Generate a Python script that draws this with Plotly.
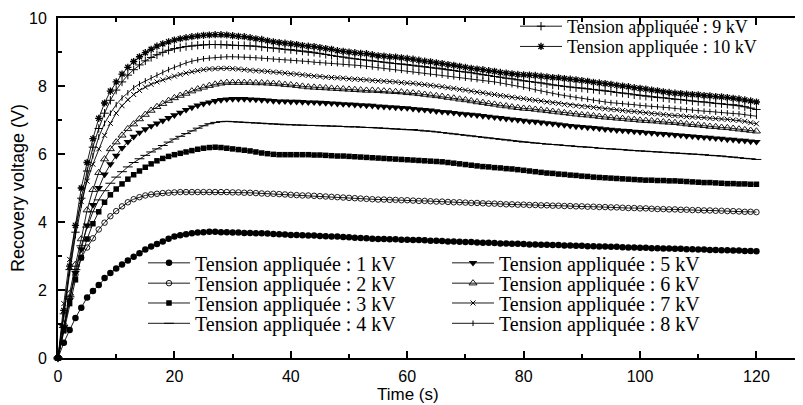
import plotly.graph_objects as go

time_s = list(range(0, 121))

v_1kV = [0, 0.45, 0.82, 1.18, 1.48, 1.78, 1.97, 2.15, 2.35, 2.50, 2.63, 2.75, 2.87, 2.98, 3.08, 3.19, 3.28, 3.35, 3.43, 3.51, 3.57, 3.61, 3.64, 3.67, 3.69, 3.70, 3.71, 3.71, 3.70, 3.70, 3.69,
         3.69, 3.68, 3.68, 3.67, 3.67, 3.66, 3.65, 3.64, 3.63, 3.62,
         3.62, 3.61, 3.60, 3.60, 3.59, 3.58, 3.57, 3.57, 3.56, 3.55,
         3.54, 3.53, 3.52, 3.51, 3.50, 3.50, 3.49, 3.49, 3.48, 3.48,
         3.47, 3.47, 3.46, 3.45, 3.45, 3.44, 3.43, 3.43, 3.42, 3.41,
         3.41, 3.40, 3.39, 3.39, 3.38, 3.37, 3.37, 3.36, 3.36, 3.35,
         3.34, 3.34, 3.33, 3.33, 3.32, 3.32, 3.31, 3.31, 3.30, 3.30,
         3.29, 3.29, 3.28, 3.28, 3.27, 3.27, 3.26, 3.25, 3.25, 3.24,
         3.24, 3.23, 3.23, 3.22, 3.22, 3.21, 3.21, 3.20, 3.20, 3.19,
         3.19, 3.18, 3.18, 3.17, 3.17, 3.16, 3.16, 3.15, 3.15, 3.14]

v_2kV = [0, 0.90, 1.75, 2.45, 2.95, 3.25, 3.52, 3.78, 3.98, 4.17, 4.32, 4.46, 4.58, 4.67, 4.73, 4.78, 4.81, 4.83, 4.85, 4.86, 4.87, 4.88, 4.88, 4.88, 4.88, 4.88, 4.88, 4.88, 4.88, 4.88, 4.87,
         4.87, 4.86, 4.86, 4.85, 4.84, 4.83, 4.83, 4.82, 4.81, 4.80,
         4.79, 4.78, 4.78, 4.77, 4.76, 4.75, 4.74, 4.73, 4.72, 4.71,
         4.70, 4.69, 4.68, 4.67, 4.66, 4.66, 4.65, 4.65, 4.64, 4.64,
         4.63, 4.62, 4.62, 4.61, 4.60, 4.60, 4.59, 4.58, 4.58, 4.57,
         4.56, 4.56, 4.55, 4.54, 4.54, 4.53, 4.52, 4.52, 4.51, 4.51,
         4.50, 4.50, 4.49, 4.49, 4.48, 4.48, 4.47, 4.47, 4.46, 4.46,
         4.45, 4.45, 4.44, 4.44, 4.43, 4.43, 4.42, 4.41, 4.41, 4.40,
         4.40, 4.39, 4.38, 4.38, 4.37, 4.37, 4.36, 4.36, 4.35, 4.35,
         4.34, 4.34, 4.33, 4.33, 4.32, 4.32, 4.31, 4.30, 4.30, 4.29]

v_3kV = [0, 0.80, 1.60, 2.30, 2.95, 3.50, 3.95, 4.30, 4.58, 4.80, 4.97, 5.12, 5.26, 5.39, 5.50, 5.61, 5.71, 5.80, 5.87, 5.93, 5.98, 6.02, 6.06, 6.10, 6.14, 6.17, 6.19, 6.20, 6.19, 6.17, 6.15,
         6.13, 6.11, 6.09, 6.06, 6.03, 6.01, 5.99, 5.98, 5.98, 5.98,
         5.98, 5.98, 5.98, 5.97, 5.97, 5.96, 5.95, 5.94, 5.94, 5.93,
         5.92, 5.91, 5.90, 5.89, 5.88, 5.87, 5.86, 5.85, 5.84, 5.83,
         5.82, 5.81, 5.80, 5.79, 5.78, 5.77, 5.75, 5.73, 5.71, 5.69,
         5.67, 5.65, 5.63, 5.62, 5.60, 5.59, 5.57, 5.56, 5.54, 5.52,
         5.50, 5.48, 5.46, 5.44, 5.43, 5.41, 5.40, 5.38, 5.37, 5.35,
         5.34, 5.32, 5.31, 5.30, 5.29, 5.28, 5.27, 5.26, 5.25, 5.24,
         5.23, 5.23, 5.22, 5.22, 5.21, 5.21, 5.20, 5.19, 5.18, 5.17,
         5.16, 5.16, 5.15, 5.14, 5.13, 5.13, 5.12, 5.12, 5.11, 5.11]

v_4kV = [0, 0.90, 1.80, 2.60, 3.30, 3.85, 4.30, 4.65, 4.92, 5.14, 5.32, 5.48, 5.62, 5.75, 5.86, 5.96, 6.06, 6.15, 6.25, 6.35, 6.44, 6.52, 6.60, 6.68, 6.76, 6.83, 6.89, 6.93, 6.95, 6.96, 6.95,
         6.94, 6.93, 6.92, 6.91, 6.90, 6.89, 6.88, 6.87, 6.86, 6.86,
         6.85, 6.85, 6.84, 6.84, 6.83, 6.83, 6.82, 6.82, 6.81, 6.80,
         6.80, 6.79, 6.78, 6.78, 6.77, 6.76, 6.75, 6.74, 6.73, 6.72,
         6.72, 6.70, 6.68, 6.67, 6.65, 6.63, 6.61, 6.59, 6.57, 6.55,
         6.53, 6.51, 6.49, 6.47, 6.45, 6.43, 6.41, 6.39, 6.37, 6.35,
         6.34, 6.32, 6.31, 6.29, 6.28, 6.27, 6.25, 6.24, 6.22, 6.21,
         6.20, 6.19, 6.17, 6.16, 6.15, 6.14, 6.13, 6.11, 6.10, 6.09,
         6.08, 6.07, 6.06, 6.05, 6.04, 6.03, 6.02, 6.01, 6.00, 5.99,
         5.98, 5.96, 5.95, 5.94, 5.92, 5.91, 5.89, 5.87, 5.86, 5.84]

v_5kV = [0, 0.90, 1.70, 2.50, 3.20, 3.90, 4.50, 5.00, 5.40, 5.70, 5.95, 6.18, 6.36, 6.51, 6.63, 6.73, 6.82, 6.90, 6.98, 7.06, 7.14, 7.22, 7.30, 7.37, 7.43, 7.48, 7.52, 7.56, 7.59, 7.61, 7.62,
         7.62, 7.62, 7.61, 7.60, 7.59, 7.58, 7.56, 7.55, 7.55, 7.54,
         7.54, 7.53, 7.52, 7.52, 7.51, 7.50, 7.49, 7.48, 7.47, 7.46,
         7.45, 7.44, 7.43, 7.42, 7.40, 7.39, 7.38, 7.37, 7.36, 7.35,
         7.33, 7.31, 7.30, 7.28, 7.26, 7.24, 7.23, 7.21, 7.19, 7.17,
         7.16, 7.14, 7.12, 7.10, 7.08, 7.06, 7.04, 7.02, 7.00, 6.98,
         6.96, 6.95, 6.93, 6.91, 6.89, 6.87, 6.85, 6.83, 6.81, 6.80,
         6.78, 6.77, 6.75, 6.73, 6.72, 6.70, 6.69, 6.68, 6.66, 6.65,
         6.63, 6.62, 6.60, 6.59, 6.58, 6.56, 6.55, 6.53, 6.52, 6.50,
         6.49, 6.48, 6.46, 6.45, 6.43, 6.42, 6.40, 6.39, 6.37, 6.36]

v_6kV = [0, 1.00, 1.90, 2.75, 3.50, 4.35, 4.95, 5.45, 5.85, 6.15, 6.35, 6.55, 6.74, 6.88, 7.03, 7.16, 7.28, 7.39, 7.48, 7.57, 7.65, 7.72, 7.78, 7.85, 7.91, 7.96, 8.01, 8.05, 8.08, 8.10, 8.10,
         8.10, 8.10, 8.10, 8.09, 8.09, 8.08, 8.07, 8.06, 8.04, 8.03,
         8.01, 7.99, 7.97, 7.96, 7.95, 7.94, 7.93, 7.92, 7.91, 7.90,
         7.89, 7.88, 7.87, 7.87, 7.86, 7.85, 7.84, 7.83, 7.82, 7.80,
         7.79, 7.77, 7.75, 7.73, 7.71, 7.69, 7.66, 7.64, 7.61, 7.59,
         7.56, 7.53, 7.51, 7.48, 7.46, 7.43, 7.41, 7.38, 7.36, 7.34,
         7.33, 7.31, 7.29, 7.27, 7.25, 7.23, 7.21, 7.19, 7.17, 7.15,
         7.14, 7.12, 7.10, 7.08, 7.07, 7.05, 7.04, 7.02, 7.01, 6.99,
         6.98, 6.97, 6.96, 6.94, 6.93, 6.92, 6.90, 6.88, 6.86, 6.85,
         6.83, 6.81, 6.80, 6.78, 6.77, 6.75, 6.73, 6.71, 6.69, 6.67]

v_7kV = [0, 1.60, 2.90, 3.90, 4.60, 5.20, 5.70, 6.15, 6.55, 6.90, 7.20, 7.42, 7.60, 7.75, 7.87, 7.97, 8.05, 8.12, 8.18, 8.24, 8.29, 8.34, 8.38, 8.42, 8.45, 8.48, 8.50, 8.51, 8.52, 8.52, 8.51,
         8.50, 8.48, 8.46, 8.45, 8.44, 8.43, 8.41, 8.40, 8.38, 8.36,
         8.35, 8.33, 8.31, 8.29, 8.28, 8.26, 8.25, 8.24, 8.23, 8.21,
         8.20, 8.19, 8.18, 8.16, 8.15, 8.14, 8.13, 8.12, 8.10, 8.09,
         8.08, 8.06, 8.04, 8.02, 8.00, 7.98, 7.95, 7.93, 7.90, 7.88,
         7.85, 7.82, 7.80, 7.77, 7.75, 7.72, 7.70, 7.67, 7.65, 7.63,
         7.60, 7.58, 7.56, 7.53, 7.51, 7.49, 7.46, 7.44, 7.42, 7.40,
         7.39, 7.37, 7.35, 7.33, 7.31, 7.30, 7.28, 7.26, 7.25, 7.23,
         7.21, 7.19, 7.18, 7.16, 7.14, 7.13, 7.12, 7.10, 7.09, 7.08,
         7.07, 7.05, 7.04, 7.03, 7.02, 7.00, 6.99, 6.96, 6.92, 6.89]

v_8kV = [0, 1.30, 2.50, 3.60, 4.50, 5.30, 5.95, 6.50, 6.90, 7.20, 7.45, 7.65, 7.80, 7.95, 8.06, 8.15, 8.24, 8.32, 8.40, 8.48, 8.55, 8.62, 8.68, 8.73, 8.77, 8.80, 8.82, 8.84, 8.85, 8.86, 8.86,
         8.86, 8.85, 8.84, 8.83, 8.82, 8.80, 8.79, 8.77, 8.76, 8.75,
         8.74, 8.73, 8.72, 8.70, 8.69, 8.68, 8.67, 8.66, 8.65, 8.63,
         8.61, 8.60, 8.58, 8.56, 8.54, 8.52, 8.50, 8.48, 8.46, 8.44,
         8.42, 8.40, 8.38, 8.36, 8.34, 8.32, 8.29, 8.27, 8.25, 8.23,
         8.21, 8.19, 8.17, 8.14, 8.12, 8.09, 8.06, 8.04, 8.01, 7.97,
         7.93, 7.89, 7.85, 7.81, 7.78, 7.75, 7.72, 7.69, 7.66, 7.63,
         7.61, 7.58, 7.55, 7.53, 7.51, 7.50, 7.48, 7.46, 7.45, 7.43,
         7.42, 7.40, 7.39, 7.37, 7.36, 7.34, 7.32, 7.30, 7.29, 7.27,
         7.26, 7.25, 7.23, 7.22, 7.21, 7.19, 7.18, 7.16, 7.13, 7.11]

v_9kV = [0, 1.30, 2.60, 3.70, 4.70, 5.50, 6.20, 6.75, 7.20, 7.58, 7.88, 8.12, 8.32, 8.48, 8.62, 8.74, 8.84, 8.92, 8.99, 9.05, 9.10, 9.13, 9.16, 9.18, 9.20, 9.21, 9.22, 9.22, 9.22, 9.21, 9.20,
         9.19, 9.19, 9.18, 9.17, 9.15, 9.13, 9.12, 9.10, 9.08, 9.07,
         9.05, 9.03, 9.01, 8.99, 8.96, 8.93, 8.90, 8.87, 8.85, 8.82,
         8.80, 8.78, 8.76, 8.74, 8.72, 8.70, 8.68, 8.66, 8.65, 8.63,
         8.61, 8.59, 8.57, 8.55, 8.53, 8.51, 8.48, 8.46, 8.43, 8.41,
         8.39, 8.36, 8.33, 8.31, 8.28, 8.26, 8.23, 8.21, 8.18, 8.15,
         8.13, 8.11, 8.09, 8.06, 8.03, 8.01, 7.99, 7.97, 7.95, 7.94,
         7.92, 7.90, 7.88, 7.86, 7.84, 7.81, 7.79, 7.77, 7.74, 7.72,
         7.70, 7.68, 7.66, 7.65, 7.63, 7.61, 7.60, 7.58, 7.56, 7.54,
         7.53, 7.51, 7.49, 7.48, 7.46, 7.45, 7.43, 7.39, 7.35, 7.31]

v_10kV = [0, 1.40, 2.70, 3.90, 5.00, 5.75, 6.45, 7.05, 7.50, 7.85, 8.12, 8.35, 8.55, 8.72, 8.86, 8.98, 9.08, 9.17, 9.24, 9.30, 9.35, 9.39, 9.42, 9.45, 9.47, 9.49, 9.50, 9.51, 9.51, 9.50, 9.48,
          9.46, 9.45, 9.42, 9.39, 9.37, 9.33, 9.30, 9.28, 9.26, 9.24,
          9.22, 9.19, 9.17, 9.16, 9.13, 9.10, 9.08, 9.04, 9.02, 9.00,
          8.98, 8.96, 8.95, 8.92, 8.89, 8.88, 8.86, 8.85, 8.83, 8.81,
          8.79, 8.76, 8.73, 8.71, 8.68, 8.66, 8.63, 8.61, 8.58, 8.55,
          8.52, 8.50, 8.48, 8.45, 8.43, 8.40, 8.38, 8.36, 8.34, 8.33,
          8.32, 8.31, 8.29, 8.27, 8.25, 8.24, 8.22, 8.20, 8.18, 8.16,
          8.14, 8.11, 8.09, 8.07, 8.05, 8.02, 8.00, 7.98, 7.95, 7.93,
          7.91, 7.88, 7.86, 7.83, 7.81, 7.79, 7.78, 7.76, 7.75, 7.74,
          7.72, 7.71, 7.69, 7.68, 7.66, 7.64, 7.62, 7.59, 7.56, 7.53]

series_names = [
    "Tension appliquée : 1 kV", "Tension appliquée : 2 kV", "Tension appliquée : 3 kV",
    "Tension appliquée : 4 kV", "Tension appliquée : 5 kV", "Tension appliquée : 6 kV",
    "Tension appliquée : 7 kV", "Tension appliquée : 8 kV", "Tension appliquée : 9 kV",
    "Tension appliquée : 10 kV",
]
series_values = [v_1kV, v_2kV, v_3kV, v_4kV, v_5kV, v_6kV, v_7kV, v_8kV, v_9kV, v_10kV]

x_ticks = [0, 20, 40, 60, 80, 100, 120]
y_ticks = [0, 2, 4, 6, 8, 10]

# marker styles (symbol, size, outline width)
styles = [
    ("circle", 6.5, 0),
    ("circle-open", 5.5, 0.9),
    ("square", 5.5, 0),
    ("line-ew-open", 7, 1),
    ("triangle-down", 7.5, 0),
    ("triangle-up-open", 7, 0.9),
    ("x-thin-open", 5, 1),
    ("line-ns-open", 4, 1),
    ("cross-thin-open", 6, 1),
    ("asterisk-open", 6, 1.3),
]

# page geometry: the page body adds an 8 px offset, so the figure is 8 px smaller
OFF = 8
W, H = 803 - OFF, 405 - OFF
ML, MR, MT, MB = 58 - OFF, 0, 15 - OFF, 47
PW, PH = W - ML - MR, H - MT - MB
X0, Y0 = OFF + ML, OFF + H - MB   # page pixel of plot origin

# legend placement in page pixels (left of symbol, row centre), font size
legend_px = [(143, 262, 20), (143, 282.5, 20), (143, 302.5, 20), (143, 323, 20),
             (447, 262, 20), (447, 282.5, 20), (447, 302.5, 20), (447, 323, 20),
             (515, 23.5, 18), (515, 44, 18)]

fig = go.Figure()
layout_legends = {}
for i, (name, vals, st) in enumerate(zip(series_names, series_values, styles)):
    lg = "legend" if i == 0 else "legend%d" % (i + 1)
    sym, size, lw = st
    fig.add_trace(go.Scatter(
        x=time_s, y=vals, name=name, mode="lines+markers",
        line=dict(color="black", width=0.9),
        marker=dict(symbol=sym, size=size, color="black",
                    line=dict(color="black", width=lw)),
        cliponaxis=False, legend=lg,
    ))
    px, py, fs = legend_px[i]
    layout_legends[lg] = dict(
        x=(px - X0) / PW, y=(Y0 - py) / PH,
        xanchor="left", yanchor="middle",
        bgcolor="rgba(0,0,0,0)", borderwidth=0,
        font=dict(family="Liberation Serif", size=fs, color="black"),
        itemwidth=42,
    )

tickfont = dict(family="Liberation Sans", size=16, color="black")
fig.update_layout(
    width=W, height=H,
    margin=dict(l=ML, r=MR, t=MT, b=MB, pad=0),
    paper_bgcolor="white", plot_bgcolor="white",
    showlegend=True,
    **layout_legends,
    xaxis=dict(range=[0, 128], tickmode="array", tickvals=x_ticks,
               ticks="inside", ticklen=7, tickwidth=1.5, tickcolor="black",
               minor=dict(ticks="inside", ticklen=4, tickwidth=1.5, tickcolor="black", dtick=10, tick0=0, showgrid=False),
               showline=True, linewidth=2, linecolor="black", mirror="ticks",
               showgrid=False, zeroline=False, tickfont=tickfont,
               ticklabelstandoff=3, automargin=False),
    yaxis=dict(range=[0, 10], tickmode="array", tickvals=y_ticks,
               ticks="inside", ticklen=7, tickwidth=1.5, tickcolor="black",
               minor=dict(ticks="inside", ticklen=4, tickwidth=1.5, tickcolor="black", dtick=1, tick0=0, showgrid=False),
               showline=True, linewidth=2, linecolor="black", mirror=False,
               showgrid=False, zeroline=False, tickfont=tickfont,
               ticklabelstandoff=6, automargin=False),
    annotations=[
        dict(text="Time (s)", xref="paper", yref="paper",
             x=(408 - X0) / PW, y=(Y0 - 395) / PH, xanchor="center", yanchor="middle",
             showarrow=False, font=dict(family="Liberation Sans", size=17, color="black")),
        dict(text="Recovery voltage (V)", xref="paper", yref="paper",
             x=(18 - X0) / PW, y=0.5, xanchor="center", yanchor="middle", textangle=-90,
             showarrow=False, font=dict(family="Liberation Sans", size=18, color="black")),
    ],
)

fig.write_html("out.html")
